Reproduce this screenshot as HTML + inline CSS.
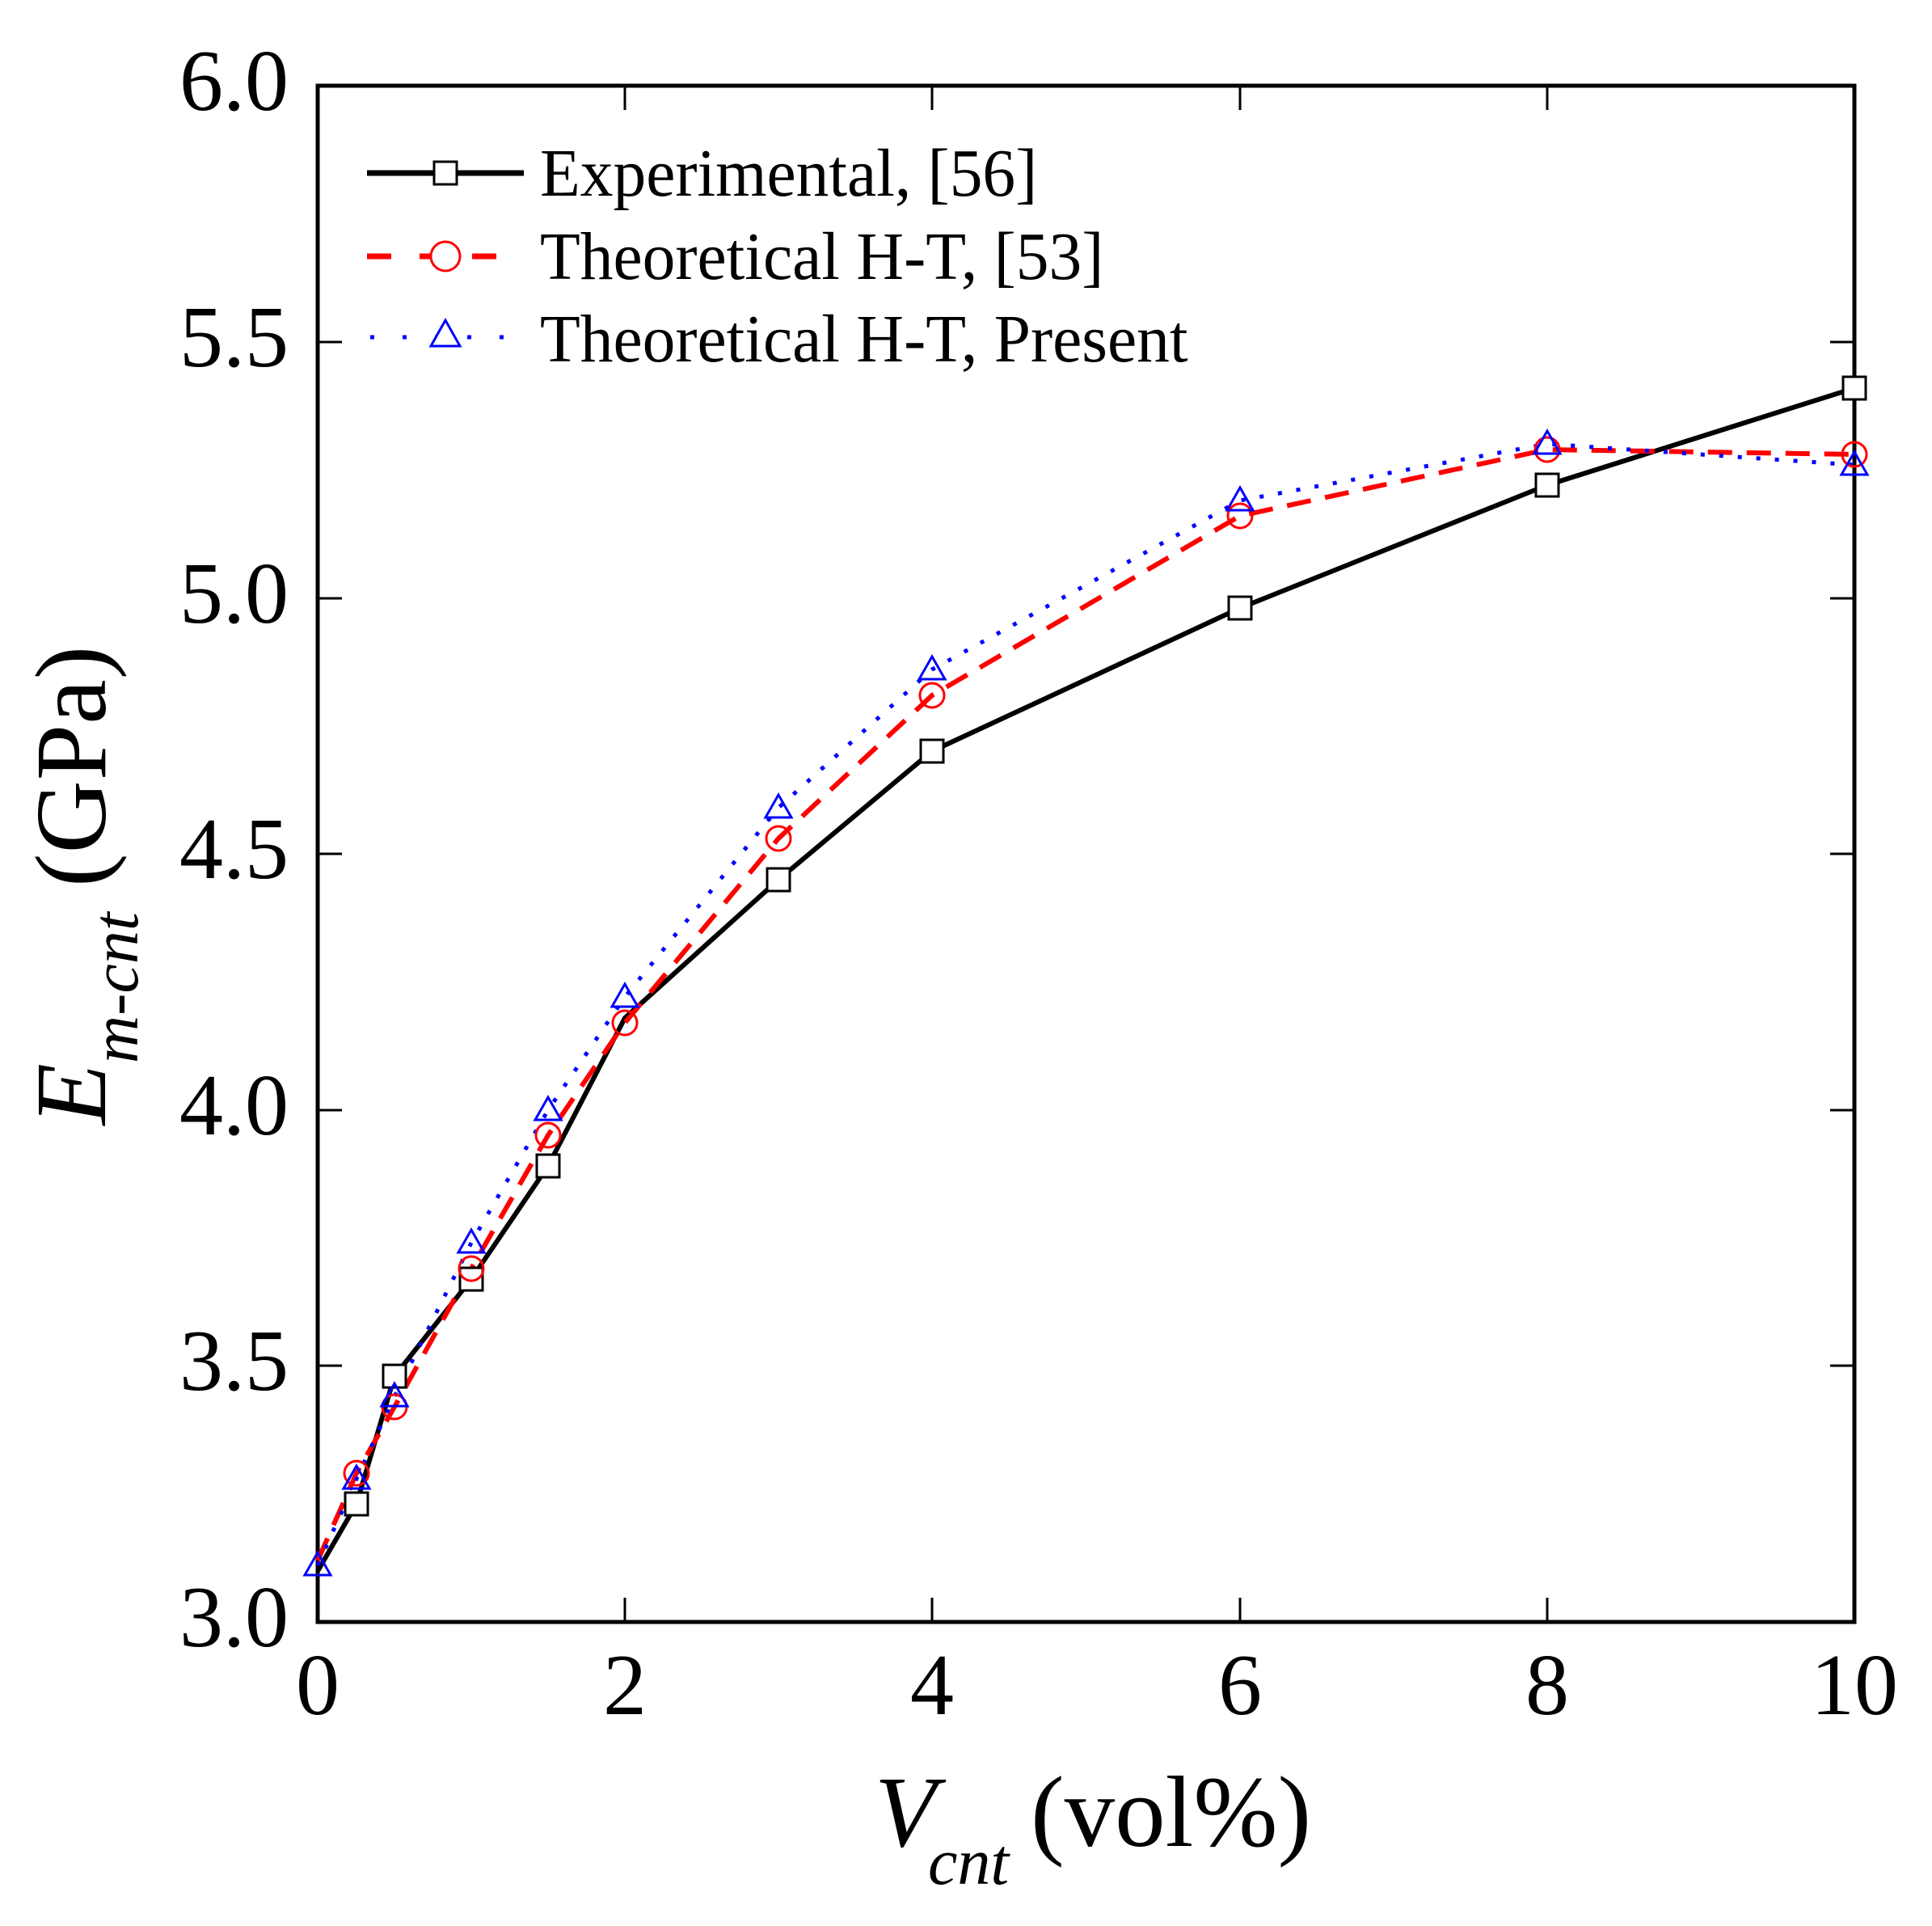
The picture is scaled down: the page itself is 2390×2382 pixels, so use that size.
<!DOCTYPE html>
<html><head><meta charset="utf-8"><style>body{margin:0;background:#fff}svg{display:block}</style></head><body>
<svg width="2390" height="2382" viewBox="0 0 2390 2382" xmlns="http://www.w3.org/2000/svg" font-family="Liberation Serif, serif">
<rect width="2390" height="2382" fill="#fff"/>
<g stroke="#000" stroke-width="3">
<line x1="773" y1="2006" x2="773" y2="1976"/><line x1="1153" y1="2006" x2="1153" y2="1976"/><line x1="1534" y1="2006" x2="1534" y2="1976"/><line x1="1914" y1="2006" x2="1914" y2="1976"/>
<line x1="773" y1="106" x2="773" y2="136"/><line x1="1153" y1="106" x2="1153" y2="136"/><line x1="1534" y1="106" x2="1534" y2="136"/><line x1="1914" y1="106" x2="1914" y2="136"/>
<line x1="393" y1="423" x2="423" y2="423"/><line x1="393" y1="740" x2="423" y2="740"/><line x1="393" y1="1056" x2="423" y2="1056"/><line x1="393" y1="1373" x2="423" y2="1373"/><line x1="393" y1="1689" x2="423" y2="1689"/>
<line x1="2294" y1="423" x2="2264" y2="423"/><line x1="2294" y1="740" x2="2264" y2="740"/><line x1="2294" y1="1056" x2="2264" y2="1056"/><line x1="2294" y1="1373" x2="2264" y2="1373"/><line x1="2294" y1="1689" x2="2264" y2="1689"/>
</g>
<rect x="393" y="106" width="1901" height="1900" fill="none" stroke="#000" stroke-width="5"/>
<g stroke-linejoin="round" fill="none">
<polyline stroke="#000" stroke-width="6" points="393,1943 441,1860 488,1702 583,1582 678,1442 773,1259 963,1088 1153,929 1534,752 1914,600 2294,480"/>
<polyline stroke="#f00" stroke-width="6" stroke-dasharray="30,18" points="393,1930 441,1822 488,1740 583,1569 678,1404 773,1265 963,1037 1153,860 1534,638 1914,556 2294,562"/>
<polyline stroke="#00f" stroke-width="5" stroke-dasharray="5,18" points="393,1936 441,1829 488,1727 583,1537 678,1373 773,1233 963,999 1153,828 1534,619 1914,549 2294,575"/>
</g>
<g fill="#fff" stroke="#000" stroke-width="3">
<rect x="427" y="1846" width="28" height="28"/><rect x="474" y="1688" width="28" height="28"/><rect x="569" y="1568" width="28" height="28"/><rect x="664" y="1428" width="28" height="28"/><rect x="949" y="1074" width="28" height="28"/><rect x="1139" y="915" width="28" height="28"/><rect x="1520" y="738" width="28" height="28"/><rect x="1900" y="586" width="28" height="28"/><rect x="2280" y="466" width="28" height="28"/>
</g>
<g fill="none" stroke="#f00" stroke-width="3">
<circle cx="441" cy="1822" r="15"/><circle cx="488" cy="1740" r="15"/><circle cx="583" cy="1569" r="15"/><circle cx="678" cy="1404" r="15"/><circle cx="773" cy="1265" r="15"/><circle cx="963" cy="1037" r="15"/><circle cx="1153" cy="860" r="15"/><circle cx="1534" cy="638" r="15"/><circle cx="1914" cy="556" r="15"/><circle cx="2294" cy="562" r="15"/>
</g>
<g fill="none" stroke="#00f" stroke-width="3">
<path d="M393,1920 l-16,28 h32z"/><path d="M441,1813 l-16,28 h32z"/><path d="M488,1711 l-16,28 h32z"/><path d="M583,1521 l-16,28 h32z"/><path d="M678,1357 l-16,28 h32z"/><path d="M773,1217 l-16,28 h32z"/><path d="M963,983 l-16,28 h32z"/><path d="M1153,812 l-16,28 h32z"/><path d="M1534,603 l-16,28 h32z"/><path d="M1914,533 l-16,28 h32z"/><path d="M2294,559 l-16,28 h32z"/>
</g>
<!-- legend -->
<line x1="454" y1="214" x2="648" y2="214" stroke="#000" stroke-width="7"/>
<rect x="537" y="200" width="28" height="28" fill="#fff" stroke="#000" stroke-width="3"/>
<line x1="454" y1="317" x2="648" y2="317" stroke="#f00" stroke-width="7" stroke-dasharray="30,35"/>
<circle cx="551" cy="317" r="18" fill="#fff" stroke="#f00" stroke-width="3"/>
<line x1="458" y1="417" x2="648" y2="417" stroke="#00f" stroke-width="5" stroke-dasharray="5,35"/>
<path d="M551,396 l-18,32 h36z" fill="#fff" stroke="#00f" stroke-width="3"/>
<g font-size="84" fill="#000" transform="translate(668,0) scale(0.97,1)">
<text x="0" y="242">Experimental, [56]</text>
<text x="0" y="345">Theoretical H-T, [53]</text>
<text x="0" y="447">Theoretical H-T, Present</text>
</g>
<g font-size="108" text-anchor="end">
<text x="357" y="136">6.0</text><text x="357" y="453">5.5</text><text x="357" y="770">5.0</text><text x="357" y="1086">4.5</text><text x="357" y="1403">4.0</text><text x="357" y="1719">3.5</text><text x="357" y="2036">3.0</text>
</g>
<g font-size="108" text-anchor="middle">
<text x="393" y="2120">0</text><text x="773" y="2120">2</text><text x="1153" y="2120">4</text><text x="1534" y="2120">6</text><text x="1914" y="2120">8</text><text x="2294" y="2120">10</text>
</g>
<text x="1082" y="2283" font-size="125" font-style="italic">V</text>
<text x="1148" y="2330" font-size="82" font-style="italic">cnt</text>
<text x="1275" y="2283" font-size="125">(vol%)</text>
<g transform="translate(130,1095) rotate(-90)">
<text x="0" y="0" font-size="125" text-anchor="middle"><tspan font-style="italic">E</tspan><tspan font-size="82" font-style="italic" dy="40">m-cnt</tspan><tspan dy="-40"> (GPa)</tspan></text>
</g>
</svg>
</body></html>
